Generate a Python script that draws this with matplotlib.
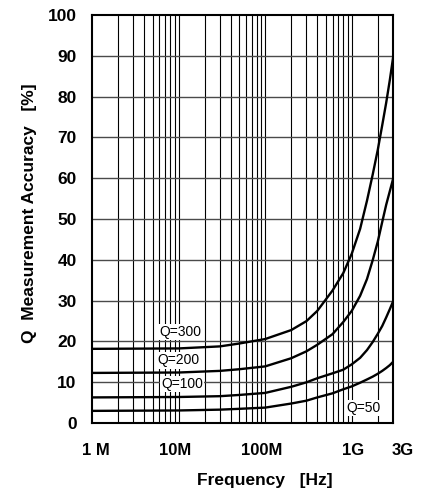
import matplotlib
matplotlib.use("Agg")
import matplotlib.pyplot as plt
from matplotlib.ticker import FixedLocator, NullFormatter
import matplotlib.transforms as mtransforms

plt.rcParams['font.family'] = ['Liberation Sans', 'DejaVu Sans']

freq = [1e6, 1e7, 3e7, 5e7, 1e8, 2e8, 3e8, 4e8, 6e8, 8e8, 1e9, 1.25e9, 1.5e9, 1.75e9, 2e9, 2.25e9, 2.5e9, 2.75e9, 3e9]
q300 = [18.2, 18.3, 18.8, 19.5, 20.6, 22.8, 25.0, 27.5, 32.5, 36.8, 41.5, 47.6, 54.5, 61.0, 67.0, 73.0, 78.5, 84.0, 89.5]
q200 = [12.3, 12.4, 12.8, 13.2, 13.9, 15.9, 17.6, 19.2, 21.8, 24.8, 27.5, 31.2, 35.3, 40.0, 44.5, 49.3, 53.5, 56.8, 59.8]
q100 = [6.3, 6.4, 6.6, 6.9, 7.4, 8.9, 10.0, 11.0, 12.2, 13.1, 14.4, 16.0, 17.9, 19.9, 21.9, 23.8, 25.9, 27.9, 29.8]
q50 = [3.0, 3.1, 3.3, 3.5, 3.8, 4.8, 5.5, 6.3, 7.3, 8.3, 9.0, 9.9, 10.7, 11.4, 12.1, 12.8, 13.5, 14.2, 15.0]

series = [q300, q200, q100, q50]
labels = ["Q=300", "Q=200", "Q=100", "Q=50"]
label_x = [1.05e7, 1.0e7, 1.1e7, 1.38e9]
label_y = [22.3, 15.4, 9.6, 3.7]

xtick_vals = [1e6, 1e7, 1e8, 1e9, 3e9]
xtick_labels = ["1 M", "10M", "100M", "1G", "3G"]
xtick_offsets = [4, -3, -3, 1, 10]
ytick_vals = [0, 10, 20, 30, 40, 50, 60, 70, 80, 90, 100]

fig = plt.figure(figsize=(4.24, 4.92), dpi=100)
ax = fig.add_axes([0.217, 0.140, 0.710, 0.8295])
ax.set_xscale('log')
ax.set_xlim(1e6, 3e9)
ax.set_ylim(0, 100)

# grid
minor = []
for dec in [1e6, 1e7, 1e8, 1e9]:
    for m in range(1, 10):
        v = dec * m
        if 1e6 < v < 3e9:
            minor.append(v)
for v in minor:
    ax.axvline(v, color='black', lw=0.8, zorder=1)
for y in ytick_vals[1:-1]:
    ax.axhline(y, color='#4a4a4a', lw=1.0, zorder=1)

for s in series:
    ax.plot(freq, s, color='black', lw=1.7, zorder=3, solid_joinstyle='round')

for lab, lx, ly in zip(labels, label_x, label_y):
    ax.text(lx, ly, lab, ha='center', va='center', fontsize=10, zorder=4,
            bbox=dict(facecolor='white', edgecolor='none', pad=1.0))

ax.xaxis.set_major_locator(FixedLocator([]))
ax.xaxis.set_minor_locator(FixedLocator([]))
ax.xaxis.set_minor_formatter(NullFormatter())
ax.set_yticks(ytick_vals)
ax.set_yticklabels([str(v) for v in ytick_vals], fontsize=12.5, fontweight='bold')
ax.tick_params(axis='y', length=0, pad=11)

trans = mtransforms.blended_transform_factory(ax.transData, ax.transAxes)
for v, lab, off in zip(xtick_vals, xtick_labels, xtick_offsets):
    ax.text(v, 0, lab, transform=trans + mtransforms.ScaledTranslation(off / 100, -27 / 100, fig.dpi_scale_trans),
            ha='center', va='center', fontsize=12, fontweight='bold')

for sp in ax.spines.values():
    sp.set_linewidth(1.5)
    sp.set_color('black')
    sp.set_zorder(5)

ax.set_ylabel("Q  Measurement Accuracy   [%]", fontsize=12.5, fontweight='bold')
ax.yaxis.set_label_coords(-0.183, 0.515)
fig.text(265 / 424, 1 - 480 / 492, "Frequency   [Hz]", ha='center', va='center',
         fontsize=12.5, fontweight='bold')

fig.savefig("out.png", dpi=100)
